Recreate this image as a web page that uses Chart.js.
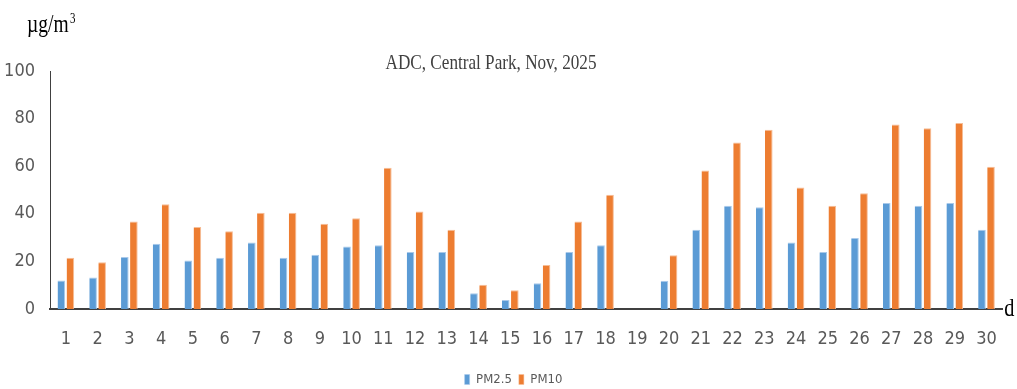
<!DOCTYPE html>
<html>
<head>
<meta charset="utf-8">
<script src="https://cdn.jsdelivr.net/npm/chart.js@4/dist/chart.umd.min.js"></script>
<style>
  html, body { margin: 0; padding: 0; background: #fff; }
  #wrap { width: 1017px; height: 389px; }
</style>
</head>
<body>
<div id="wrap"><canvas id="myChart" width="1017" height="389"></canvas></div>
<script>
// daily means for November, day 19 has no data
var days = ['1','2','3','4','5','6','7','8','9','10','11','12','13','14','15',
            '16','17','18','19','20','21','22','23','24','25','26','27','28','29','30'];
var pm25 = [12, 13.2, 21.9, 27.4, 20.4, 21.5, 27.9, 21.5, 22.8, 26.3,
            26.8, 23.9, 23.9, 6.6, 3.8, 10.8, 23.9, 26.8, null, 11.9,
            33.3, 43.4, 42.7, 27.9, 23.9, 29.8, 44.5, 43.4, 44.5, 33.3];
var pm10 = [21.5, 19.6, 36.8, 44.0, 34.5, 32.7, 40.4, 40.4, 35.8, 38.1,
            59.3, 41.0, 33.3, 10.2, 7.9, 18.5, 36.8, 48.0, null, 22.6,
            58.2, 70.0, 75.3, 51.0, 43.4, 48.6, 77.5, 75.9, 78.1, 59.8];
var yTicks = [0, 20, 40, 60, 80, 100];

var titleText = 'ADC, Central Park, Nov, 2025';
var narrow = "'Liberation Sans Narrow', 'DejaVu Sans Condensed', sans-serif";
var serif = "'Liberation Serif', 'DejaVu Serif', serif";

// serif labels drawn squeezed horizontally
function squeezed(ctx, text, x, y, font, color, align) {
    ctx.save();
    ctx.font = font;
    ctx.fillStyle = color;
    ctx.textAlign = align || 'left';
    ctx.textBaseline = 'alphabetic';
    ctx.translate(x, y);
    ctx.scale(0.78, 1);
    ctx.fillText(text, 0, 0);
    ctx.restore();
}

var extraText = {
    id: 'extraText',
    afterLayout: function (chart) {
        // legend row sits a bit right of the canvas middle
        chart.legend.left += 11;
        chart.legend.right += 11;
    },
    afterDraw: function (chart) {
        var ctx = chart.ctx;
        var area = chart.chartArea;
        squeezed(ctx, titleText, 491, area.top - 2, '22px ' + serif, '#404040', 'center');
        squeezed(ctx, 'µg/m', 27, 32, '25px ' + serif, '#000', 'left');
        squeezed(ctx, '3', 70, 23, '14px ' + serif, '#000', 'left');
        squeezed(ctx, 'd', area.right + 2, area.bottom + 7, '26px ' + serif, '#000', 'left');
    }
};

var ctx = document.getElementById('myChart').getContext('2d');
var myChart = new Chart(ctx, {
    type: 'bar',
    data: {
        labels: days,
        datasets: [
            {
                label: 'PM2.5',
                data: pm25,
                backgroundColor: '#5b9bd5',
                borderColor: '#a9c9ea',
                borderWidth: { top: 1, right: 1, left: 0, bottom: 0 },
                categoryPercentage: 0.57,
                barPercentage: 0.84,
            },
            {
                label: 'PM10',
                data: pm10,
                backgroundColor: '#ed7d31',
                borderColor: '#f6bd96',
                borderWidth: { top: 1, right: 1, left: 0, bottom: 0 },
                categoryPercentage: 0.57,
                barPercentage: 0.84,
            },
        ],
    },
    options: {
        responsive: false,
        animation: false,
        devicePixelRatio: 1,
        // negative bottom pushes the legend row down to the edge
        layout: { padding: { top: 71, left: 0, right: 12, bottom: -7 } },
        plugins: {
            title: { display: false },
            tooltip: { enabled: false },
            legend: {
                position: 'bottom',
                labels: {
                    boxWidth: 5,
                    boxHeight: 10,
                    padding: 7,
                    color: '#595959',
                    font: { family: narrow, size: 13 },
                },
            },
        },
        scales: {
            x: {
                grid: { display: false, drawTicks: false },
                border: { display: true, color: '#404040', width: 2 },
                ticks: {
                    color: '#595959',
                    font: { family: narrow, size: 18 },
                    padding: 20,
                    maxRotation: 0,
                    autoSkip: false,
                },
                afterFit: function (scale) { scale.height = 57; },
            },
            y: {
                min: 0,
                max: 100,
                afterBuildTicks: function (scale) {
                    scale.ticks = yTicks.map(function (v) { return { value: v }; });
                },
                grid: { display: false, drawTicks: false },
                border: { display: true, color: '#404040', width: 1 },
                ticks: {
                    color: '#595959',
                    font: { family: narrow, size: 18 },
                    padding: 15,
                },
                afterFit: function (scale) { scale.width = 50; },
            },
        },
    },
    plugins: [extraText],
});
</script>
</body>
</html>
